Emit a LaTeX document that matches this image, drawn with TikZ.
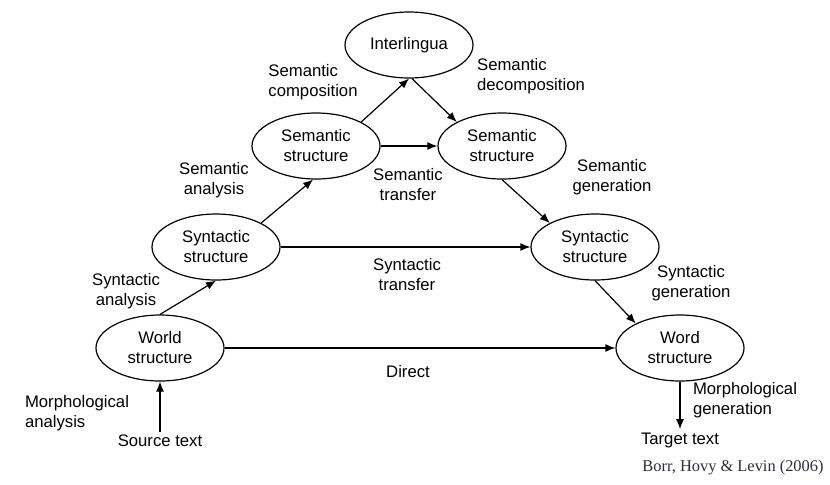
\documentclass[tikz,border=0pt]{standalone}
\usepackage{fontspec}
\setmainfont{Liberation Sans}
\newfontfamily\refserif{Liberation Serif}
\usepackage{tikz}
\usetikzlibrary{shapes.geometric, arrows.meta, positioning}
\definecolor{refcinza}{RGB}{45,45,60}

\begin{document}
\begin{tikzpicture}[x=0.5pt,y=-0.5pt,font=\fontsize{8.35pt}{10pt}\selectfont,
    stage/.style={ellipse,draw,line width=0.6pt,minimum width=64pt,minimum height=33pt,inner sep=0,align=center},
    note/.style={align=center,inner sep=1.5pt},
    seta/.style={-{Latex[length=5pt,width=4pt]},line width=0.6pt}]
  \useasboundingbox (0,0) rectangle (830,484);

  % níveis de representação
  \node[stage] (inter) at (409,45) {Interlingua};
  \node[stage] (seml) at (316,146) {Semantic\\structure};
  \node[stage] (semr) at (502,146) {Semantic\\structure};
  \node[stage] (synl) at (216,247) {Syntactic\\structure};
  \node[stage] (synr) at (595,247) {Syntactic\\structure};
  \node[stage] (worl) at (160,348) {World\\structure};
  \node[stage] (word) at (680,348) {Word\\structure};
  \node[note] (src) at (160,441) {Source text};
  \node[note] (tgt) at (680,440) {Target text};

  % passos de análise, transferência e geração
  \foreach \a/\b in {src/worl,worl.north/synl.south,synl.28/seml.265,seml.28/inter.south,
      inter.275/semr.152,seml/semr,semr.south/synr.152,synl/synr,synr.south/word.151,
      worl/word,word/tgt}
    \draw[seta] (\a) -- (\b);

  \node[note,align=left] (semcomp) at (313,82) {Semantic\\composition};
  \node[note,align=left] (semdec) at (531,76) {Semantic\\decomposition};
  \node[note] (semana) at (214,180) {Semantic\\analysis};
  \node[note] (semtra) at (408,185) {Semantic\\transfer};
  \node[note] (semgen) at (612,177) {Semantic\\generation};
  \node[note] (synana) at (126,291) {Syntactic\\analysis};
  \node[note] (syntra) at (407,275) {Syntactic\\transfer};
  \node[note] (syngen) at (691,283) {Syntactic\\generation};
  \node[note] (direct) at (408,372) {Direct};
  \node[note,align=left] (morana) at (77,413) {Morphological\\analysis};
  \node[note,align=left] (morgen) at (745,400) {Morphological\\generation};

  \node[font=\refserif\fontsize{8.2pt}{10pt}\selectfont,text=refcinza] (fonte) at (733,468) {Borr, Hovy \& Levin (2006)};
\end{tikzpicture}
\end{document}
